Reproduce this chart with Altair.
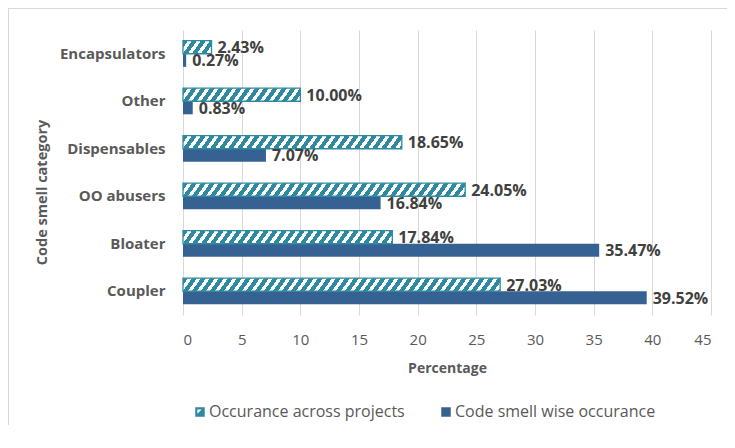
import altair as alt
import pandas as pd

# ---------------- data ----------------
categories = ["Encapsulators", "Other", "Dispensables", "OO abusers", "Bloater", "Coupler"]
across_projects = [2.43, 10.00, 18.65, 24.05, 17.84, 27.03]
smell_wise = [0.27, 0.83, 7.07, 16.84, 35.47, 39.52]
series_names = ["Occurance across projects", "Code smell wise occurance"]
x_ticks = [0, 5, 10, 15, 20, 25, 30, 35, 40, 45]

# ---------------- style ----------------
TEAL = "#2f8a9f"
NAVY = "#366193"
GRAY = "#595959"
LABEL = "#404040"
GRID = "#d9d9d9"
FONT = "Open Sans"
W_PLOT = 528
H_PLOT = 285
X_MAX = 45
PAD_INNER = 0.45

rows = []
for c, a, b in zip(categories, across_projects, smell_wise):
    rows.append({"cat": c, "series": series_names[0], "pct": a, "label": f"{a:.2f}%"})
    rows.append({"cat": c, "series": series_names[1], "pct": b, "label": f"{b:.2f}%"})
df = pd.DataFrame(rows)


def hatch(value, period=9.0, on=0.55, slant=0.7):
    """Diagonal hatch as a linear gradient in the bar's bounding box."""
    w = max(value / X_MAX * W_PLOT, 0.5)
    h = H_PLOT / len(categories) * (1 - PAD_INNER) / 2
    f = w + slant * h
    k = f / (w ** 2 + (slant * h) ** 2)
    stops = []
    i = 0
    while i * period < f:
        a = i * period / f
        b = min((i * period + on * period) / f, 1.0)
        c = min((i + 1) * period / f, 1.0)
        stops += [
            {"offset": a, "color": TEAL},
            {"offset": b, "color": TEAL},
            {"offset": b, "color": "#ffffff"},
            {"offset": c, "color": "#ffffff"},
        ]
        i += 1
    return {"gradient": "linear", "x1": 0, "y1": 0, "x2": k * w, "y2": k * slant * h, "stops": stops}


y_enc = alt.Y(
    "cat:N",
    sort=categories,
    scale=alt.Scale(domain=categories, paddingInner=PAD_INNER, paddingOuter=PAD_INNER / 2),
    axis=alt.Axis(
        title="Code smell category",
        labelFont=FONT, labelFontSize=15, labelFontWeight="bold", labelColor=GRAY,
        labelPadding=18, domain=False, ticks=False, grid=False,
        titleFont=FONT, titleFontSize=14.5, titleFontWeight="bold", titleColor=GRAY,
        titleX=-141, titleY=162, titleAngle=270, titleBaseline="middle", titleAlign="center",
    ),
)
x_enc = alt.X(
    "pct:Q",
    scale=alt.Scale(domain=[0, X_MAX], nice=False),
    axis=alt.Axis(
        values=x_ticks, title="Percentage", format="d",
        labelFont=FONT, labelFontSize=15, labelColor=GRAY, labelPadding=17,
        domain=False, ticks=False, grid=True, gridColor=GRID, gridWidth=1,
        titleFont=FONT, titleFontSize=14, titleFontWeight="bold", titleColor=GRAY, titlePadding=14,
    ),
)
yoff_enc = alt.YOffset("series:N", scale=alt.Scale(domain=series_names, paddingInner=0, paddingOuter=0))

base = alt.Chart(df)

one = alt.Data(values=[{"a": 1}])
border_left = alt.Chart(one).mark_rect(color=GRID).encode(
    x=alt.value(-175), x2=alt.value(-174), y=alt.value(-22), y2=alt.value(H_PLOT + 110),
)
border_top = alt.Chart(one).mark_rect(color=GRID).encode(
    x=alt.value(-175), x2=alt.value(W_PLOT + 16), y=alt.value(-22), y2=alt.value(-21),
)

solid = base.transform_filter(alt.datum.series == series_names[1]).mark_bar(color=NAVY).encode(
    x=x_enc, y=y_enc, yOffset=yoff_enc
)

hatched_layers = []
for c, v in zip(categories, across_projects):
    hatched_layers.append(
        base.transform_filter((alt.datum.series == series_names[0]) & (alt.datum.cat == c))
        .mark_bar(fill=hatch(v), stroke=TEAL, strokeWidth=1.3)
        .encode(x=x_enc, y=y_enc, yOffset=yoff_enc)
    )

labels = base.mark_text(
    align="left", baseline="middle", dx=6, dy=1,
    font=FONT, fontSize=16, fontWeight="bold", color=LABEL,
).encode(x=x_enc, y=y_enc, yOffset=yoff_enc, text="label:N")

legend_path = "M-1,-1H1V1H-1Z M-0.55,-0.55L-0.55,0.35L0.35,-0.55Z"
legend_props = dict(
    title=None, orient="none", direction="horizontal", legendX=9, legendY=374,
    labelFont=FONT, labelFontSize=16, labelColor=GRAY, labelOffset=1, labelLimit=400,
    symbolSize=90, symbolOpacity=1, symbolStrokeWidth=0, columnPadding=33,
)
legend_pts = base.mark_point(filled=True, opacity=0).encode(
    x=x_enc, y=y_enc, yOffset=yoff_enc,
    color=alt.Color(
        "series:N",
        scale=alt.Scale(domain=series_names, range=[TEAL, NAVY]),
        legend=alt.Legend(**legend_props),
    ),
    shape=alt.Shape(
        "series:N",
        scale=alt.Scale(domain=series_names, range=[legend_path, "square"]),
        legend=alt.Legend(**legend_props),
    ),
)

chart = alt.layer(border_left, border_top, solid, *hatched_layers, labels, legend_pts).properties(
    width=W_PLOT, height=H_PLOT,
    autosize=alt.AutoSizeParams(type="none"),
    padding={"left": 175, "top": 22, "right": 16, "bottom": 110},
    background="white",
).configure_view(stroke=None)

chart.save("out.html", embed_options={"renderer": "svg", "actions": False})
